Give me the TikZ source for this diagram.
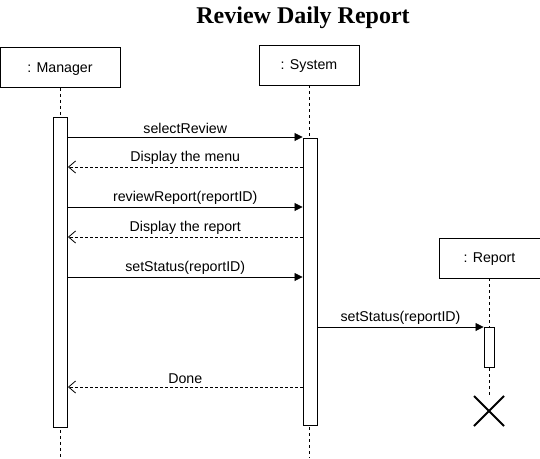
\documentclass[tikz,border=0pt]{standalone}
\usepackage{fontspec}
\setmainfont{Liberation Sans}
\newfontfamily\titlefont{Liberation Serif}
\usetikzlibrary{arrows.meta,calc}
\begin{document}
\begin{tikzpicture}[x=1pt,y=-1pt,
  obj/.style={draw,line width=0.9pt,fill=white,minimum width=#1,minimum height=40pt,inner sep=0pt,text depth=0pt,font=\fontsize{14.2}{16}\selectfont},
  obj/.default=100pt,
  act/.style={draw,line width=0.9pt,fill=white,minimum width=14pt,inner sep=0pt,anchor=north},
  life/.style={dashed,line width=0.7pt,dash pattern=on 3pt off 3pt},
  call/.style={line width=0.8pt,-{Triangle[length=8pt,width=8pt]}},
  ret/.style={line width=0.8pt,dash pattern=on 3pt off 2pt,-{Straight Barb[length=7pt,width=12pt,line width=0.8pt]}},
  lbl/.style={font=\fontsize{14.2}{16}\selectfont,above,inner sep=2.5pt}]
\useasboundingbox (0,0) rectangle (540,458);
\node[font=\titlefont\bfseries\fontsize{24}{28}\selectfont] (title) at (303,18) {Review Daily Report};
% objects
\node[obj=120pt] (man) at (60,67.5) {: Manager};
\node[obj=100pt] (sys) at (309,65) {: System};
\node[obj=101pt] (rep) at (489.5,258) {: Report};
% lifelines
\coordinate (manend) at (60,458);
\coordinate (sysend) at (310,458);
\coordinate (repend) at (489,398);
\draw[life] (man.south) -- (man.south |- manend);
\draw[life] (sys.south) -- (sys.south |- sysend);
\draw[life] (rep.south) -- (rep.south |- repend);
% activations
\node[act,minimum height=310pt] (mact) at (60.5,117) {};
\node[act,minimum height=287pt] (sact) at (310,138) {};
\node[act,minimum width=10pt,minimum height=40pt] (ract) at (489,327) {};
% destroy
\coordinate (x) at (489,411);
\draw[line width=1.8pt] ($(x)+(-15,-15)$) -- ($(x)+(15,15)$);
\draw[line width=1.8pt] ($(x)+(-15,15)$) -- ($(x)+(15,-15)$);
% message levels
\coordinate (y1) at (0,137);
\coordinate (y2) at (0,167);
\coordinate (y3) at (0,207);
\coordinate (y4) at (0,237);
\coordinate (y5) at (0,277);
\coordinate (y6) at (0,327);
\coordinate (y7) at (0,387);
\draw[call] (mact.east |- y1) -- node[lbl] {selectReview} (sact.west |- y1);
\draw[ret] (sact.west |- y2) -- node[lbl] {Display the menu} (mact.east |- y2);
\draw[call] (mact.east |- y3) -- node[lbl] {reviewReport(reportID)} (sact.west |- y3);
\draw[ret] (sact.west |- y4) -- node[lbl] {Display the report} (mact.east |- y4);
\draw[call] (mact.east |- y5) -- node[lbl] {setStatus(reportID)} (sact.west |- y5);
\draw[call] (sact.east |- y6) -- node[lbl] {setStatus(reportID)} (ract.west |- y6);
\draw[ret] (sact.west |- y7) -- node[lbl] {Done} (mact.east |- y7);
\end{tikzpicture}
\end{document}
